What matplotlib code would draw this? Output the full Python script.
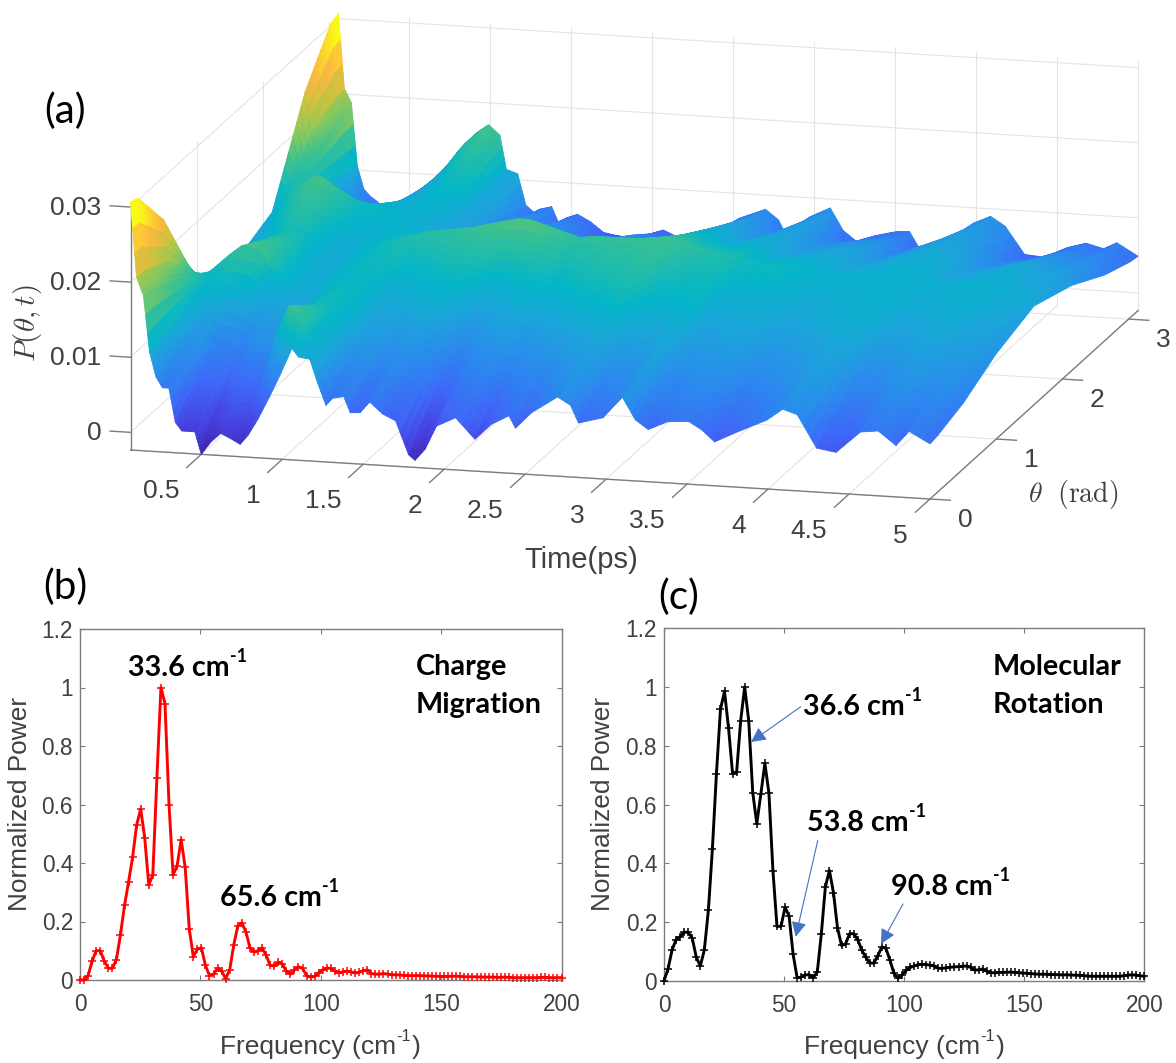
import numpy as np
import matplotlib
matplotlib.use("Agg")
import matplotlib.pyplot as plt
from matplotlib.colors import LinearSegmentedColormap
from mpl_toolkits.mplot3d import Axes3D, proj3d  # noqa

W, H = 1176, 1063
plt.rcParams['font.family'] = ['Liberation Sans', 'DejaVu Sans']
plt.rcParams['mathtext.fontset'] = 'cm'

# ---------- panel (a): values ----------
time_ps = [.063,.10,.143,.18,.22,.26,.30,.34,.38,.46,.50,.56,.62,.69,.74,.79,.85,.92,.99,1.06,1.10,1.17,1.22,1.27,1.31,1.38,1.42,1.48,1.54,1.62,1.70,1.78,1.82,1.88,1.95,2.07,2.19,2.29,2.40,2.44,2.54,2.70,2.78,2.83,2.98,3.10,3.18,3.26,3.38,3.51,3.59,3.67,3.80,3.99,4.09,4.18,4.30,4.42,4.57,4.68,4.79,4.87,5.0]
theta_rad = [0, .12, .5, 1.0, 1.57, 2.14, 2.64, 3.02, 3.1416]
p_t0 = [.0307,.0207,.0183,.0109,.0076,.0062,.0062,.0017,.0006,.0006,-.00235,-.0006,.0006,-.0001,-.0007,.0006,.0028,.0058,.0090,.0125,.0114,.0112,.0080,.0052,.0062,.0065,.0044,.0045,.0060,.0045,.0037,-.0007,-.0014,.0001,.0033,.0046,.0019,.0040,.0053,.0037,.0059,.0082,.0072,.0049,.0058,.0087,.0058,.0046,.0058,.0060,.0050,.0035,.0049,.0068,.0084,.0078,.0035,.0031,.0060,.0063,.0045,.0065,.0050]
p_t1 = [.0302,.0207,.0183,.0112,.008,.0068,.0068,.0032,.0024,.0024,.0002,.0016,.0026,.0026,.0028,.0048,.0085,.0135,.0171,.0158,.0128,.0118,.0085,.0062,.0068,.0072,.0055,.0055,.0068,.0055,.0048,.0012,.0006,.0020,.0045,.0056,.0034,.0052,.0063,.0052,.0068,.0088,.0080,.0062,.0068,.0092,.0068,.0058,.0068,.0070,.0062,.0048,.0060,.0076,.0090,.0084,.0050,.0046,.0068,.0072,.0056,.0072,.0052]
p_t2 = [.0243,.019,.0165,.0125,.0105,.0098,.0095,.0075,.007,.0072,.0062,.0075,.0085,.0085,.0085,.0095,.0112,.013,.0142,.0140,.0135,.0125,.0108,.0095,.0095,.0095,.0085,.0085,.0092,.0085,.0078,.0062,.0058,.0065,.0078,.0085,.0075,.0085,.0092,.0088,.0098,.0108,.0102,.0092,.0095,.0108,.0092,.0085,.0090,.0092,.0085,.0078,.0085,.0095,.0105,.0102,.0078,.0075,.0088,.0090,.0082,.0085,.0064]
p_t3 = [.0122,.0128,.0135,.0142,.0150,.0158,.0165,.0172,.0172,.0165,.0150,.0135,.0125,.0118,.0115,.0118,.0125,.0132,.0135,.0132,.0135,.0128,.0120,.0118,.012,.0125,.0125,.0128,.0132,.0132,.0128,.0118,.0112,.0115,.0122,.0128,.0122,.0128,.0135,.0135,.0140,.0148,.0140,.0132,.0130,.0135,.0115,.0112,.0115,.0115,.0112,.0108,.0112,.0118,.0122,.0120,.0108,.0108,.0115,.0112,.0105,.0104,.0090]
p_t4 = [.0100,.0104,.0108,.0112,.0118,.0125,.0132,.0140,.0145,.0142,.0135,.0125,.0118,.0115,.0118,.0122,.0128,.0135,.014,.0145,.0148,.0152,.0155,.0158,.016,.0162,.0163,.0165,.0167,.0172,.0176,.0180,.0182,.0182,.0178,.0170,.0162,.0165,.0165,.0165,.0165,.0168,.0165,.0160,.0150,.0148,.0142,.014,.0140,.0132,.0130,.0128,.0128,.0128,.0128,.0128,.0124,.0124,.0128,.0126,.0122,.0118,.0108]
p_t5 = [.0122,.013,.014,.015,.0158,.0165,.0170,.0175,.0172,.0160,.0155,.0145,.014,.0137,.0132,.0128,.0125,.0122,.0118,.0112,.0105,.0105,.0100,.0098,.0100,.0102,.0098,.0100,.0102,.0102,.0098,.0095,.0092,.0092,.0098,.0105,.0100,.0108,.0115,.0115,.0122,.0130,.0125,.0118,.0118,.0120,.0110,.0105,.0110,.0112,.0108,.0100,.0105,.0115,.0118,.0115,.0100,.0100,.0110,.0112,.0105,.0105,.0090]
p_t6 = [.0243,.019,.0168,.0125,.0108,.010,.0098,.0090,.0085,.0085,.0088,.0095,.0102,.0108,.0112,.0118,.0125,.0135,.0142,.0138,.0115,.0110,.0090,.0085,.0088,.009,.008,.0082,.0085,.008,.0072,.007,.0068,.0068,.0072,.0078,.0072,.0078,.0082,.0084,.0092,.0102,.0095,.0085,.0095,.0102,.0088,.0082,.0086,.0088,.0088,.0072,.0082,.0098,.0102,.0095,.0075,.0072,.0080,.0085,.0078,.0082,.0064]
p_t7 = [.0302,.0207,.0188,.0108,.0078,.0070,.0065,.0058,.0052,.0050,.0056,.0072,.0088,.0102,.0113,.0125,.0143,.0157,.0167,.0155,.0113,.0108,.0070,.0062,.0066,.0070,.0052,.0058,.0062,.0054,.0042,.0040,.0039,.0037,.0042,.0050,.0040,.0047,.0052,.0056,.0070,.0084,.0072,.0052,.0078,.0090,.0063,.0050,.0058,.0065,.0066,.0040,.0054,.0082,.0091,.0080,.0047,.0045,.0059,.0065,.0060,.0068,.0051]
p_t8 = [.0307,.0207,.0189,.0105,.0075,.0066,.0060,.0052,.0045,.0042,.0050,.0068,.0085,.0100,.0112,.0125,.0145,.0160,.0171,.0158,.0113,.0108,.0067,.0058,.0063,.0067,.0047,.0054,.0059,.0050,.0037,.0034,.0033,.0031,.0036,.0045,.0034,.0042,.0047,.0052,.0067,.0081,.0068,.0047,.0075,.0088,.0059,.0046,.0055,.0062,.0063,.0034,.0050,.0080,.0090,.0078,.0042,.0040,.0055,.0062,.0056,.0065,.0049]
time_ticks = [0.5, 1, 1.5, 2, 2.5, 3, 3.5, 4, 4.5, 5]
time_labels = ['0.5', '1', '1.5', '2', '2.5', '3', '3.5', '4', '4.5', '5']
theta_ticks = [0, 1, 2, 3]
p_ticks = [0, 0.01, 0.02, 0.03]
p_labels = ['0', '0.01', '0.02', '0.03']

# ---------- panels (b), (c): spectra ----------
freq_step = 1.68
power_charge = [0,0,.015,.065,.10,.10,.065,.04,.04,.07,
 .155,.255,.335,.42,.53,.585,.485,.325,.36,.69,
 1.0,.945,.60,.36,.39,.48,.385,.175,.08,.105,
 .11,.05,.015,.02,.04,.03,.005,.035,.12,.185,
 .195,.165,.11,.095,.10,.11,.085,.05,.048,.06,
 .055,.03,.02,.035,.045,.04,.015,.01,.012,.025,
 .035,.04,.04,.03,.025,.028,.03,.028,.024,.026,
 .032,.034,.022,.02,.02,.022,.02,.018,.018,.017,
 .016,.015,.015,.015,.015,.014,.014,.013,.013,.012,
 .012,.012,.013,.013,.012,.011,.011,.011,.011,.010,
 .010,.010,.010,.009,.009,.010,.009,.008,.008,.008,
 .008,.008,.008,.008,.009,.009,.008,.008,.008,.008]
power_rotation = [0,.04,.105,.14,.15,.165,.165,.145,.08,.05,
 .105,.24,.45,.705,.925,.985,.86,.705,.71,.885,
 1.0,.885,.64,.535,.635,.74,.64,.375,.185,.185,
 .25,.22,.09,.01,.012,.02,.02,.01,.03,.16,
 .32,.375,.30,.18,.12,.125,.16,.16,.14,.105,
 .08,.06,.06,.085,.115,.11,.07,.025,.008,.02,
 .035,.045,.05,.055,.056,.055,.053,.05,.042,.042,
 .044,.046,.047,.048,.049,.05,.045,.036,.037,.04,
 .032,.027,.027,.028,.028,.029,.029,.028,.027,.026,
 .025,.024,.023,.022,.022,.022,.021,.021,.02,.02,
 .02,.019,.019,.018,.017,.016,.015,.015,.015,.015,
 .015,.015,.015,.015,.017,.019,.02,.019,.017,.015]
freq_ticks = [0, 50, 100, 150, 200]
power_ticks = [0, .2, .4, .6, .8, 1, 1.2]
power_labels = ['0', '0.2', '0.4', '0.6', '0.8', '1', '1.2']

TXT = '#404040'
GRID = '#e4e4e4'
AX = '#7d7d7d'
BLUE = '#4472C4'

fig = plt.figure(figsize=(W / 100, H / 100), dpi=100)
fig.patch.set_facecolor('white')


def fx(x):
    return x / W


def fy(y):
    return 1 - y / H


def ftext(x, y, s, **kw):
    return fig.text(fx(x), fy(y), s, **kw)


# ---------- 3-D panel ----------
T0, T1 = time_ps[0], time_ps[-1]
TH0, TH1 = 0, theta_rad[-1]
ZMIN, ZMAX = -0.00235, 0.0307

ax3 = fig.add_axes([0.1, 0.5, 0.7, 0.7 * W / H], projection='3d',
                   proj_type='ortho', computed_zorder=False)
ax3.set_box_aspect((1, 1, 255.4 / 826), zoom=1)
ax3.view_init(elev=13.63, azim=-75.42)
ax3.set_xlim(T0, T1, view_margin=0)
ax3.set_ylim(TH0, TH1, view_margin=0)
ax3.set_zlim(ZMIN, ZMAX, view_margin=0)
ax3.set_axis_off()
ax3.patch.set_visible(False)


def to_px(t, th, z):
    x2, y2, _ = proj3d.proj_transform(t, th, z, ax3.get_proj())
    p = ax3.transData.transform((x2, y2))
    return p[0], H - p[1]


# fit the projected box onto the reference's box corners
for _ in range(3):
    ax3.apply_aspect()
    a = np.array(to_px(T0, 0, ZMIN))
    b = np.array(to_px(T1, 0, ZMIN))
    want_a, want_b = np.array([130.5, 450.0]), np.array([930.0, 499.0])
    k = np.linalg.norm(want_b - want_a) / np.linalg.norm(b - a)
    pos = ax3.get_position(original=True)
    side = pos.width * k
    ax3.set_position([pos.x0, pos.y0, side, side * W / H])
    ax3.apply_aspect()
    a = np.array(to_px(T0, 0, ZMIN))
    pos = ax3.get_position(original=True)
    ax3.set_position([pos.x0 + (want_a[0] - a[0]) / W,
                      pos.y0 - (want_a[1] - a[1]) / H, pos.width, pos.height])
ax3.apply_aspect()


def line3(ts, ths, zs, color=GRID, lw=0.8):
    ax3.plot(ts, ths, zs, color=color, lw=lw, zorder=1, clip_on=False)


for t in time_ticks:
    line3([t, t], [TH0, TH1], [ZMIN, ZMIN])
    line3([t, t], [TH1, TH1], [ZMIN, ZMAX])
for th in theta_ticks:
    line3([T0, T1], [th, th], [ZMIN, ZMIN])
    line3([T0, T0], [th, th], [ZMIN, ZMAX])
for z in p_ticks:
    line3([T0, T0], [TH0, TH1], [z, z])
    line3([T0, T1], [TH1, TH1], [z, z])

# box axes and tick marks
line3([T0, T1], [0, 0], [ZMIN, ZMIN], AX, 1.0)
line3([T1, T1], [TH0, TH1], [ZMIN, ZMIN], AX, 1.0)
line3([T0, T0], [0, 0], [ZMIN, ZMAX], AX, 1.0)
for t, lab in zip(time_ticks, time_labels):
    line3([t, t], [0, -0.22], [ZMIN, ZMIN], AX, 1.0)
    x, y = to_px(t, 0, ZMIN)
    ftext(x - 22, y + 37, lab, ha='right', va='center', fontsize=19, color=TXT)
for th in theta_ticks:
    line3([T1, T1 + 0.125], [th, th], [ZMIN, ZMIN], AX, 1.0)
    x, y = to_px(T1, th, ZMIN)
    ftext(x + 35, y + 21, str(th), ha='center', va='center', fontsize=19, color=TXT)
for z, lab in zip(p_ticks, p_labels):
    line3([T0, T0 - 0.125], [0, 0], [z, z], AX, 1.0)
    x, y = to_px(T0, 0, z)
    ftext(x - 29, y + 1, lab, ha='right', va='center', fontsize=19, color=TXT)

parula = LinearSegmentedColormap.from_list('parula_like', [
    (0.00, '#3e26a8'), (0.10, '#4640e0'), (0.20, '#3f66f8'), (0.30, '#2c87ef'),
    (0.40, '#1ba5da'), (0.47, '#04b6c8'), (0.58, '#3cc18f'), (0.66, '#85c85e'),
    (0.76, '#c8c23f'), (0.85, '#fbb840'), (0.93, '#fbd82a'), (1.00, '#f9fb15')])

# The table above is the surface; like MATLAB's "shading interp", each table
# cell is only subdivided for drawing so the colour runs smoothly across it.
P = np.array([p_t0, p_t1, p_t2, p_t3, p_t4, p_t5, p_t6, p_t7, p_t8])
T_tab, TH_tab = np.array(time_ps), np.array(theta_rad)
th_fine = np.concatenate([np.linspace(TH_tab[i], TH_tab[i + 1], 9)[:-1]
                          for i in range(len(TH_tab) - 1)] + [TH_tab[-1:]])
t_fine = np.concatenate([np.linspace(T_tab[i], T_tab[i + 1], 4)[:-1]
                         for i in range(len(T_tab) - 1)] + [T_tab[-1:]])
P1 = np.array([np.interp(th_fine, TH_tab, P[:, j]) for j in range(P.shape[1])]).T
Pf = np.array([np.interp(t_fine, T_tab, row) for row in P1])
TT, TH = np.meshgrid(t_fine, th_fine)
norm = plt.Normalize(ZMIN, ZMAX)
surf = ax3.plot_surface(TT, TH, Pf, facecolors=parula(norm(Pf)), shade=False,
                        rcount=Pf.shape[0], ccount=Pf.shape[1], linewidth=0.6,
                        antialiased=True, zorder=2)
surf.set_edgecolor(surf._facecolor3d)

ftext(581, 560, 'Time(ps)', ha='center', va='center', fontsize=21, color=TXT)
ftext(27, 323, r'$P(\theta,t)$', ha='center', va='center', rotation=90, fontsize=21, color=TXT)
ftext(1073, 494, r'$\theta\ \ \mathrm{(rad)}$', ha='center', va='center', fontsize=20, color=TXT)

# ---------- 2-D panels ----------
renderer = fig.canvas.get_renderer()


def pieces(x, y, parts, **kw):
    """Left-aligned run of text pieces; a piece in a tuple is a superscript."""
    for p in parts:
        if isinstance(p, tuple):
            size = kw['fontsize'] * 0.62
            t = ftext(x, y - kw['fontsize'] * 0.55, p[0], va='center', ha='left',
                      **{**kw, 'fontsize': size})
        else:
            t = ftext(x, y, p, va='center', ha='left', **kw)
        x = t.get_window_extent(renderer).x1 + 0.5


def spectrum_axes(left, right, top, bottom, freq, power, color):
    a = fig.add_axes([fx(left), fy(bottom), (right - left) / W, (bottom - top) / H])
    a.plot(freq, power, color=color, lw=2.1, marker='+', ms=5.2, mew=1.1, clip_on=False, zorder=5)
    a.set_xlim(0, 200)
    a.set_ylim(0, 1.2)
    a.set_xticks(freq_ticks)
    a.set_yticks(power_ticks)
    a.set_yticklabels(power_labels)
    a.tick_params(direction='in', top=True, right=True, length=3.5, width=0.8, color=AX,
                  labelsize=16.3, labelcolor=TXT)
    a.tick_params(axis='x', pad=9.5)
    a.tick_params(axis='y', pad=5)
    for s in a.spines.values():
        s.set_color(AX)
        s.set_linewidth(1.0)
    a.patch.set_alpha(0)
    return a


freq_b = np.arange(len(power_charge)) * freq_step
freq_c = np.arange(len(power_rotation)) * freq_step
spectrum_axes(80, 561.7, 629, 980, freq_b, power_charge, '#ff0000')
spectrum_axes(664, 1144.3, 628.3, 980.7, freq_c, power_rotation, '#000000')

for cx, left in ((20, 220), (603, 804)):
    ftext(cx, 804, 'Normalized Power', rotation=90, ha='center', va='center', fontsize=18.9, color=TXT)
    pieces(left, 1047, ['Frequency (cm', ('-1',), ')'], fontsize=19, color=TXT)

BOLD = dict(fontfamily='Lato', fontweight='bold', fontsize=20.7, color='black')
pieces(128, 668, ['33.6 cm', ('-1',)], **BOLD)
pieces(220, 898, ['65.6 cm', ('-1',)], **BOLD)
pieces(803, 707, ['36.6 cm', ('-1',)], **BOLD)
pieces(807, 823, ['53.8 cm', ('-1',)], **BOLD)
pieces(891, 887, ['90.8 cm', ('-1',)], **BOLD)
for x, y, s in ((416, 667, 'Charge'), (416, 705, 'Migration'),
                (993, 667, 'Molecular'), (993, 705, 'Rotation')):
    ftext(x, y, s, ha='left', va='center', **BOLD)

PANEL = dict(fontfamily='Lato', fontsize=29, color='black', ha='left', va='center')
ftext(44, 111, '(a)', **PANEL)
ftext(43, 587, '(b)', **PANEL)
ftext(658, 597, '(c)', **PANEL)

for (x0, y0), (x1, y1) in (((800.7, 706.7), (751, 742)),
                           ((817.7, 840.7), (795.7, 936.7)),
                           ((903, 904), (881, 944))):
    fig.add_artist(matplotlib.patches.FancyArrowPatch(
        (fx(x0), fy(y0)), (fx(x1), fy(y1)), transform=fig.transFigure,
        arrowstyle='-|>,head_length=9,head_width=4.5', lw=0.8, color=BLUE,
        shrinkA=0, shrinkB=0, mutation_scale=1.0))

fig.savefig('out.png', dpi=100)
